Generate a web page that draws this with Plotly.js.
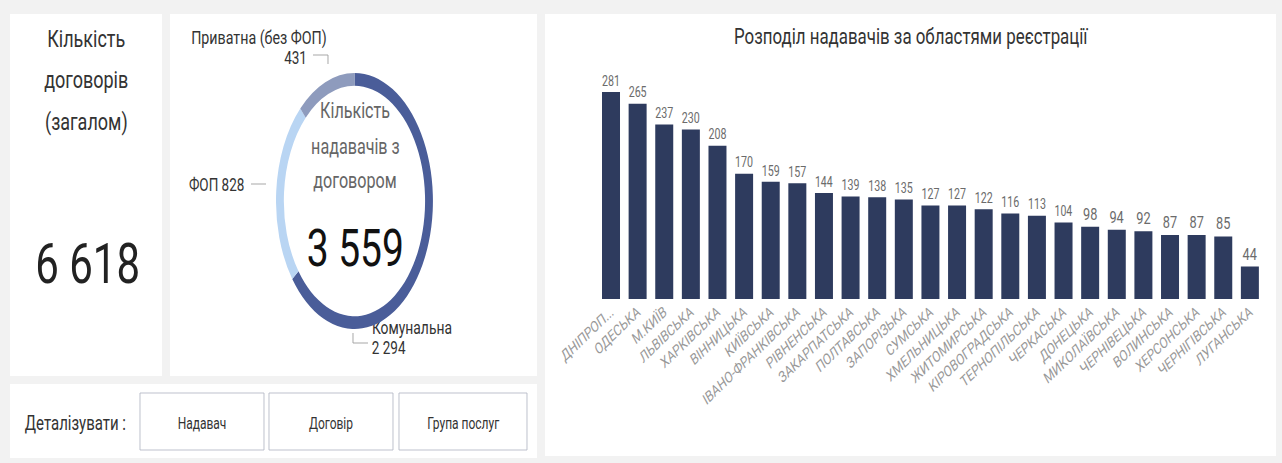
<!DOCTYPE html>
<html>
<head>
<meta charset="utf-8">
<script src="https://cdn.plot.ly/plotly-3.0.1.min.js"></script>
<style>
  html, body { margin: 0; padding: 0; background: #f2f2f2; overflow: hidden; width: 1282px; height: 463px; }
  #main { position: absolute; left: 0; top: 0; width: 1710px; height: 463px; transform: scaleX(0.7497); transform-origin: 0 0; }
  #donut { position: absolute; left: 276px; top: 73px; width: 256px; height: 256px; transform: scaleX(0.613); transform-origin: 0 0; }
</style>
</head>
<body>
<div id="main"></div>
<div id="donut"></div>
<script>
// ---- data ----
const regions = ["ДНІПРОП...", "ОДЕСЬКА", "М.КИЇВ", "ЛЬВІВСЬКА", "ХАРКІВСЬКА", "ВІННИЦЬКА", "КИЇВСЬКА",
  "ІВАНО-ФРАНКІВСЬКА", "РІВНЕНСЬКА", "ЗАКАРПАТСЬКА", "ПОЛТАВСЬКА", "ЗАПОРІЗЬКА", "СУМСЬКА",
  "ХМЕЛЬНИЦЬКА", "ЖИТОМИРСЬКА", "КІРОВОГРАДСЬКА", "ТЕРНОПІЛЬСЬКА", "ЧЕРКАСЬКА", "ДОНЕЦЬКА",
  "МИКОЛАЇВСЬКА", "ЧЕРНІВЕЦЬКА", "ВОЛИНСЬКА", "ХЕРСОНСЬКА", "ЧЕРНІГІВСЬКА", "ЛУГАНСЬКА"];
const providers = [281, 265, 237, 230, 208, 170, 159, 157, 144, 139, 138, 135, 127, 127, 122, 116, 113, 104, 98, 94, 92, 87, 87, 85, 44];

const ownershipLabels = ["Комунальна", "ФОП", "Приватна (без ФОП)"];
const ownershipValues = [2294, 828, 431];
const ownershipColors = ["#4a5d99", "#b9d5f3", "#8e9bbd"];

const totalContracts = "6 618";
const totalProviders = "3 559";
const buttonLabels = ["Надавач", "Договір", "Група послуг"];

// ---- helpers: reference pixel coords -> paper fractions ----
const W = 1282, H = 463;
const px = x => x / W;
const py = y => 1 - y / H;

function rect(x0, y0, x1, y1, fill, line) {
  return { type: "rect", xref: "paper", yref: "paper", layer: "below",
    x0: px(x0), x1: px(x1), y0: py(y1), y1: py(y0),
    fillcolor: fill, line: line || { width: 0 } };
}
function seg(x0, y0, x1, y1) {
  return { type: "line", xref: "paper", yref: "paper",
    x0: px(x0), x1: px(x1), y0: py(y0), y1: py(y1),
    line: { color: "#9a9a9a", width: 1 } };
}
function txt(text, x, y, size, color, xanchor) {
  return { text: text, xref: "paper", yref: "paper", x: px(x), y: py(y),
    xanchor: xanchor || "center", yanchor: "middle", showarrow: false,
    font: { family: "Roboto, sans-serif", size: size, color: color } };
}

const shapes = [
  rect(10, 14, 162, 376, "#ffffff"),
  rect(170, 14, 537, 376, "#ffffff"),
  rect(10, 384, 537, 458, "#ffffff"),
  rect(545, 14, 1276, 456, "#ffffff"),
  rect(140, 393, 264, 450, "#ffffff", { color: "#b4b8c6", width: 1 }),
  rect(269, 393, 393, 450, "#ffffff", { color: "#b4b8c6", width: 1 }),
  rect(399, 393, 527, 450, "#ffffff", { color: "#b4b8c6", width: 1 }),
  // leader lines of donut labels
  seg(313, 55, 328, 55), seg(328, 55, 328, 64),
  seg(251, 184, 266, 184),
  seg(353, 333, 353, 343), seg(353, 343, 368, 343)
];

const annotations = [
  txt("Кількість", 86, 39, 24, "#333333"),
  txt("договорів", 86, 80, 24, "#333333"),
  txt("(загалом)", 86, 122, 24, "#333333"),
  txt(totalContracts, 88, 264, 56, "#222222"),
  txt(ownershipLabels[2], 259, 37, 19, "#333333"),
  txt(String(ownershipValues[2]), 308, 58, 18, "#333333", "right"),
  txt(ownershipLabels[1] + " " + ownershipValues[1], 246, 184, 18, "#333333", "right"),
  txt(ownershipLabels[0], 370, 328, 18.5, "#333333", "left"),
  txt("2 294", 370, 347, 18, "#333333", "left"),
  txt("Кількість", 355, 111, 21.5, "#666666"),
  txt("надавачів з", 355, 146, 21.5, "#666666"),
  txt("договором", 355, 181, 21.5, "#666666"),
  txt(totalProviders, 355, 249, 52, "#111111"),
  txt("Деталізувати :", 75, 423, 20, "#333333"),
  txt(buttonLabels[0], 202, 423, 16, "#333333"),
  txt(buttonLabels[1], 331, 423, 16, "#333333"),
  txt(buttonLabels[2], 463, 423, 16, "#333333"),
  txt("Розподіл надавачів за областями реєстрації", 911, 36, 22.5, "#333333")
];

const barTrace = {
  type: "bar", x: regions, y: providers,
  marker: { color: "#2e3b5e" },
  text: providers.map(String), textposition: "outside", cliponaxis: false,
  textfont: { family: "Roboto, sans-serif", size: 17, color: "#6b6b6b" },
  hoverinfo: "none"
};

const mainLayout = {
  width: 1710, height: 463,
  margin: { l: 0, r: 0, t: 0, b: 0 },
  paper_bgcolor: "#f2f2f2", plot_bgcolor: "rgba(0,0,0,0)",
  showlegend: false, bargap: 0.324,
  font: { family: "Roboto, sans-serif" },
  xaxis: { domain: [px(597.7), px(1263.2)], automargin: false, showgrid: false, zeroline: false,
    showline: false, ticks: "", tickangle: -36,
    tickfont: { family: "Roboto, sans-serif", size: 15.5, color: "#999999" } },
  yaxis: { domain: [py(299), py(78)], range: [0, 300], visible: false, showgrid: false, zeroline: false },
  shapes: shapes, annotations: annotations
};

Plotly.newPlot("main", [barTrace], mainLayout, { staticPlot: true, displayModeBar: false });

const pieTrace = {
  type: "pie", labels: ownershipLabels, values: ownershipValues,
  marker: { colors: ownershipColors, line: { width: 0 } },
  hole: 0.9, sort: false, direction: "clockwise", rotation: 0,
  textinfo: "none", hoverinfo: "none"
};
Plotly.newPlot("donut", [pieTrace], {
  width: 256, height: 256, margin: { l: 0, r: 0, t: 0, b: 0 },
  paper_bgcolor: "rgba(0,0,0,0)", showlegend: false
}, { staticPlot: true, displayModeBar: false });
</script>
</body>
</html>
